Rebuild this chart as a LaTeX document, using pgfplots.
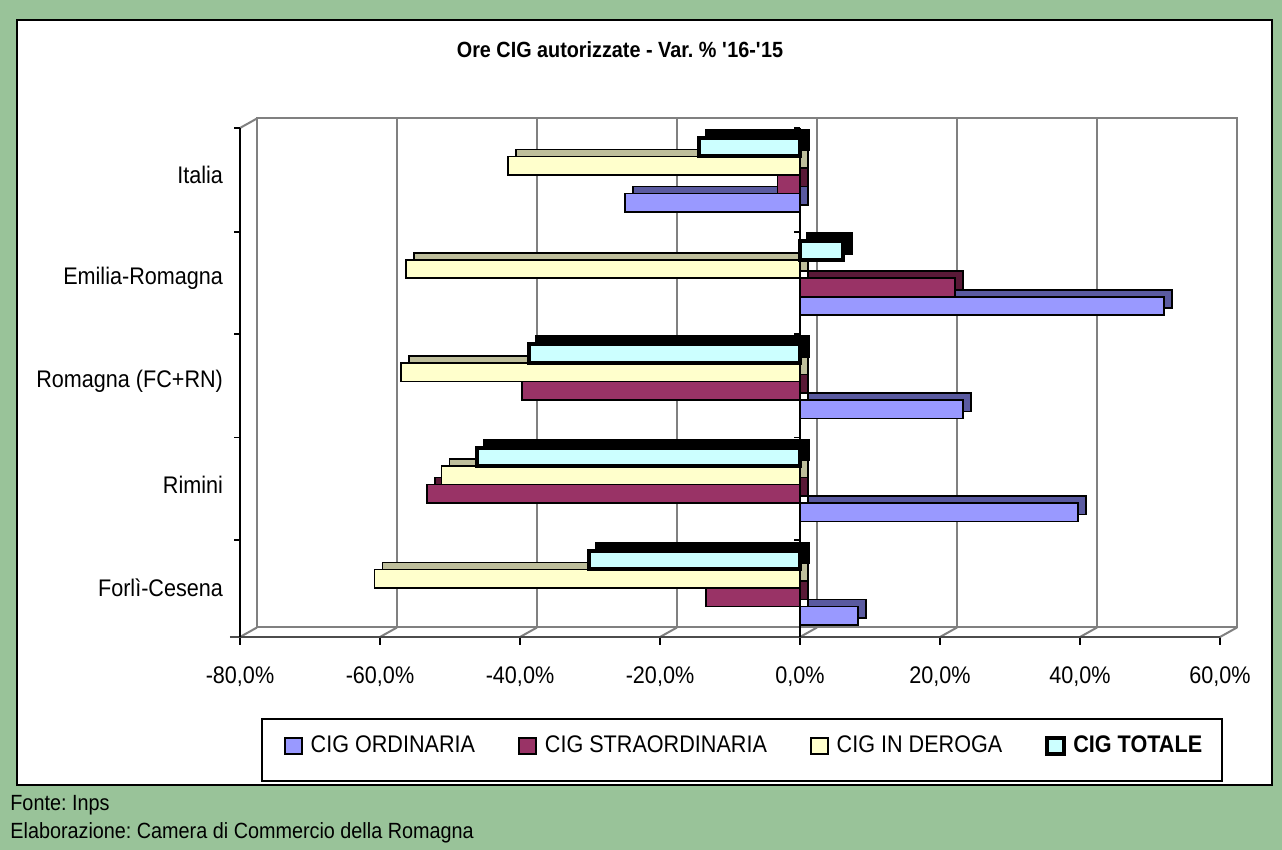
\documentclass[border=0pt]{standalone}
\usepackage{pgfplots}
\pgfplotsset{compat=1.18}
\usepackage{pgfplotstable}
\usepackage{fontspec}
\setmainfont{Liberation Sans}[FakeStretch=0.9]
\frenchspacing
\definecolor{bggreen}{RGB}{153,195,153}
\definecolor{cord}{RGB}{153,153,255}
\definecolor{cordS}{RGB}{90,90,160}
\definecolor{cstr}{RGB}{153,51,102}
\definecolor{cstrS}{RGB}{90,25,55}
\definecolor{cder}{RGB}{255,255,204}
\definecolor{cderS}{RGB}{190,190,155}
\definecolor{ctot}{RGB}{204,255,255}
\definecolor{gridgray}{RGB}{128,128,128}

\pgfplotstableread{
cat ord str der tot
0 8.3 -13.4 -60.8 -30.2
1 39.7 -53.3 -51.2 -46.1
2 23.3 -39.7 -57.0 -38.7
3 52.0 22.1 -56.3 6.1
4 -25.0 -3.2 -41.7 -14.5
}\datatable

\pgfplotsset{
  legimg/.style={legend image code/.code={\draw[##1] (0pt,-4pt) rectangle (8.5pt,4pt); \path[draw=none,fill=none] (0pt,0pt) -- (11pt,0pt);}},
}

\begin{document}
\begin{tikzpicture}
\fill[bggreen] (0,0) rectangle (641pt,425pt);
\filldraw[fill=white, draw=black, line width=1pt] (8.5pt,32.5pt) rectangle (636pt,415pt);
\node[font=\fontsize{11}{13}\selectfont\bfseries] at (310pt,400pt) {Ore CIG autorizzate - Var. \% \textquotesingle16-\textquotesingle15};
\filldraw[fill=white, draw=black, line width=0.75pt] (131pt,34.5pt) rectangle (611pt,65.5pt);
\node[anchor=west, font=\fontsize{11}{13}\selectfont, inner sep=0pt] at (5pt,22.5pt) {Fonte: Inps};
\node[anchor=west, font=\fontsize{11}{13}\selectfont, inner sep=0pt] at (5pt,8.5pt) {Elaborazione: Camera di Commercio della Romagna};
\begin{axis}[
  at={(120pt,106.5pt)}, anchor=south west,
  scale only axis, width=490pt, height=254.5pt,
  xmin=-80, xmax=60, ymin=-0.475, ymax=4.455,
  clip=false,
  xbar, bar width=9.25pt,
  axis line style={draw=none},
  xtick={-80,-60,-40,-20,0,20,40,60},
  xtick pos=left, ytick pos=left, tick align=outside,
  xtick style={draw=black, line width=0.6pt},
  major tick length=4pt,
  ytick={0,1,2,3,4},
  yticklabels={Forlì-Cesena,Rimini,Romagna (FC+RN),Emilia-Romagna,Italia},
  ytick style={draw=none},
  /pgf/number format/assume math mode=true,
  xticklabel={\pgfmathprintnumber[fixed,fixed zerofill,precision=1,use comma]{\tick}\%},
  tick label style={font=\fontsize{12}{14}\selectfont},
  xticklabel style={yshift=-7.5pt},
  yticklabel style={xshift=-1pt},
  legend columns=4,
  legend style={draw=none, fill=none, at={(axis description cs:0.0444,-0.214)}, anchor=west,
    font=\fontsize{12}{14}\selectfont, inner sep=0pt,
    /tikz/every even column/.append style={column sep=19.5pt}},
]
% back wall and floor
\pgfplotsinvokeforeach{-60,-40,-20,0,20,40}{
  \draw[gridgray, line width=0.75pt] ([xshift=8.5pt,yshift=4.75pt]axis cs:#1,-0.475) -- ([xshift=8.5pt,yshift=4.75pt]axis cs:#1,4.455);
}
\pgfplotsinvokeforeach{-80,-60,-40,-20,0,20,40,60}{
  \draw[gridgray, line width=1pt] (axis cs:#1,-0.475) -- ([xshift=8.5pt,yshift=4.75pt]axis cs:#1,-0.475);
}
\draw[gridgray, line width=1pt] ([xshift=8.5pt,yshift=4.75pt]axis cs:-80,-0.475) -- ([xshift=8.5pt,yshift=4.75pt]axis cs:-80,4.455) -- ([xshift=8.5pt,yshift=4.75pt]axis cs:60,4.455) -- ([xshift=8.5pt,yshift=4.75pt]axis cs:60,-0.475) -- cycle;
\draw[gridgray, line width=1pt] (axis cs:-80,4.455) -- ([xshift=8.5pt,yshift=4.75pt]axis cs:-80,4.455);
\draw[black!70, line width=0.9pt] ([xshift=-5pt]axis cs:-80,-0.475) -- (axis cs:60,-0.475);
\draw[black, line width=0.6pt] (axis cs:-80,-0.475) -- (axis cs:-80,4.455);
\pgfplotsinvokeforeach{4.455,3.448,2.46,1.46,0.465}{
  \draw[black, line width=0.6pt] (axis cs:-80,#1) -- ++(-3pt,0pt);
}
% zero axis
\draw[black, line width=0.6pt] (axis cs:0,-0.475) -- (axis cs:0,4.455);
\pgfplotsinvokeforeach{4.455,3.448,2.46,1.46,0.465}{
  \draw[black, line width=0.6pt] (axis cs:0,#1) -- ++(-3pt,0pt);
}
% ORDINARIA
\addplot[forget plot, fill=cordS, draw=black, line width=0.8pt, bar shift=-13.875pt, xshift=4pt, yshift=3.5pt] table[x=ord,y=cat]{\datatable};
\addplot[fill=cord, draw=black, line width=0.8pt, bar shift=-13.875pt, legimg] table[x=ord,y=cat]{\datatable};
\addlegendentry{CIG ORDINARIA}
% STRAORDINARIA
\addplot[forget plot, fill=cstrS, draw=black, line width=0.8pt, bar shift=-4.625pt, xshift=4pt, yshift=3.5pt] table[x=str,y=cat]{\datatable};
\addplot[fill=cstr, draw=black, line width=0.8pt, bar shift=-4.625pt, legimg] table[x=str,y=cat]{\datatable};
\addlegendentry{CIG STRAORDINARIA}
% IN DEROGA
\addplot[forget plot, fill=cderS, draw=black, line width=0.8pt, bar shift=4.625pt, xshift=4pt, yshift=3.5pt] table[x=der,y=cat]{\datatable};
\addplot[fill=cder, draw=black, line width=0.8pt, bar shift=4.625pt, legimg] table[x=der,y=cat]{\datatable};
\addlegendentry{CIG IN DEROGA}
% TOTALE
\addplot[forget plot, fill=black, draw=black, line width=2pt, bar shift=13.875pt, xshift=4pt, yshift=3.5pt] table[x=tot,y=cat]{\datatable};
\addplot[fill=ctot, draw=black, line width=2pt, bar shift=13.875pt, legimg] table[x=tot,y=cat]{\datatable};
\addlegendentry{\textbf{CIG TOTALE}}
\end{axis}
\end{tikzpicture}
\end{document}
